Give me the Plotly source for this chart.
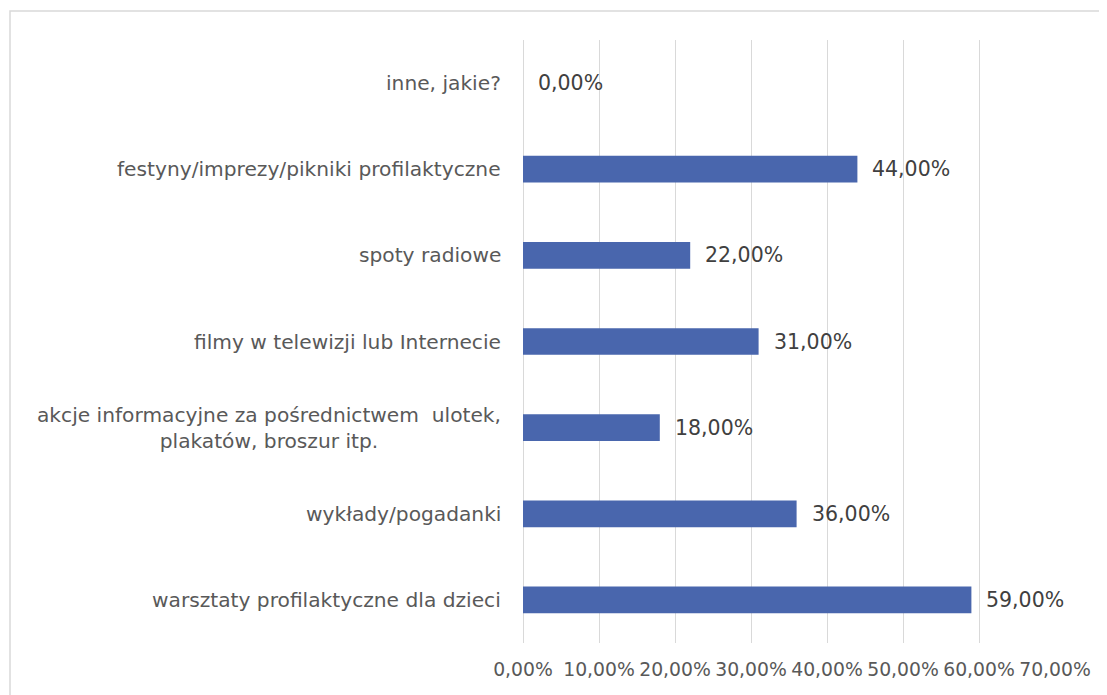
import plotly.graph_objects as go

categories = [
    "warsztaty profilaktyczne dla dzieci",
    "wykłady/pogadanki",
    "akcje informacyjne za pośrednictwem  ulotek,<br>plakatów, broszur itp.",
    "filmy w telewizji lub Internecie",
    "spoty radiowe",
    "festyny/imprezy/pikniki profilaktyczne",
    "inne, jakie?",
]
values = [0.59, 0.36, 0.18, 0.31, 0.22, 0.44, 0.00]
tick_vals = [0, 0.1, 0.2, 0.3, 0.4, 0.5, 0.6, 0.7]

FONT = "DejaVu Sans"
# page body has an 8px margin
W, H = 1099, 687
L, R, T, B = 515, 52, 32, 52
PW, PH = W - L - R, H - T - B

fig = go.Figure()
fig.add_trace(go.Bar(
    y=categories, x=values, orientation="h",
    marker=dict(color="#4966ad", line=dict(width=0)),
    hoverinfo="skip",
))

annotations = []
for c, v in zip(categories, values):
    annotations.append(dict(
        x=v, y=c, xref="x", yref="y", xanchor="left", yanchor="middle",
        xshift=13, showarrow=False, text=f"{v*100:.2f}%".replace(".", ","),
        font=dict(family=FONT, size=20.5, color="#404040"),
    ))
    annotations.append(dict(
        x=0, y=c, xref="paper", yref="y", xanchor="right", yanchor="middle",
        xshift=-20, showarrow=False, text=c, align="center",
        font=dict(family=FONT, size=20.2, color="#595959"),
    ))

fig.update_layout(
    width=W, height=H,
    margin=dict(l=L, r=R, t=T, b=B),
    paper_bgcolor="white", plot_bgcolor="white",
    separators=", ",
    bargap=0.69,
    showlegend=False,
    annotations=annotations,
    shapes=[dict(
        type="rect", xref="paper", yref="paper",
        x0=-(L - 2) / PW, x1=1.2, y0=-0.2, y1=1 + (T - 3) / PH,
        line=dict(color="#d9d9d9", width=1.5), fillcolor="rgba(0,0,0,0)",
        layer="below",
    )],
    xaxis=dict(
        range=[0, 0.7], tickvals=tick_vals, tickformat=".2%",
        showgrid=True, gridcolor="#d9d9d9", gridwidth=1,
        zeroline=True, zerolinecolor="#d9d9d9", zerolinewidth=1,
        showline=False,
        ticks="", ticklabelstandoff=13,
        tickfont=dict(family=FONT, size=18.8, color="#595959"),
        fixedrange=True,
    ),
    yaxis=dict(
        showticklabels=False, showgrid=False, zeroline=False,
        categoryorder="array", categoryarray=categories,
        range=[-0.5, len(categories) - 0.5],
        fixedrange=True,
    ),
)

fig.write_html("out.html")
